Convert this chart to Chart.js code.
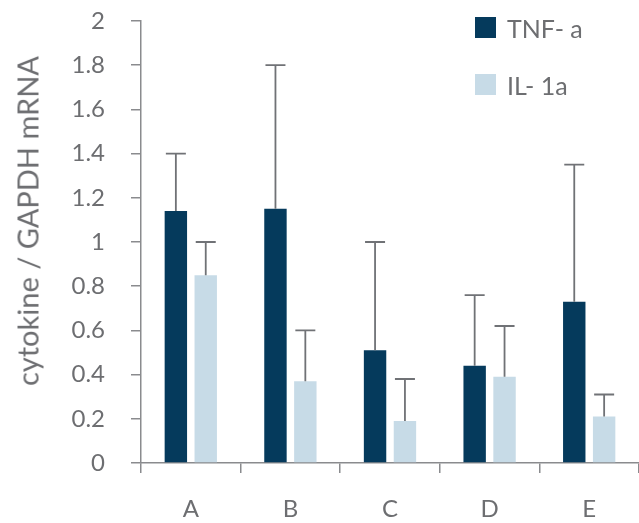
<!DOCTYPE html>
<html>
<head>
<meta charset="utf-8">
<script src="https://cdn.jsdelivr.net/npm/chart.js@4"></script>
<style>
  body { margin: 0; background: #fff; }
  #wrap { position: relative; width: 639px; height: 523px; }
  #legend { position: absolute; left: 475px; top: 12px; font-family: Lato, sans-serif; font-size: 25px; color: #6d6e71; }
  .item { display: flex; align-items: center; height: 31px; margin-bottom: 26px; }
  .box { width: 21px; height: 21px; margin-right: 11px; }
  #ytitle { position: absolute; left: 27px; top: 221px; transform: translate(-50%, -50%) rotate(-90deg);
            white-space: nowrap; font-family: Lato, sans-serif; font-size: 29px; color: #6d6e71; }
</style>
</head>
<body>
<div id="wrap">
  <canvas id="chart" width="639" height="523"></canvas>
  <div id="legend"></div>
  <div id="ytitle">cytokine / GAPDH mRNA</div>
</div>
<script>
const categories = ['A', 'B', 'C', 'D', 'E'];
const tnfValues = [1.14, 1.15, 0.51, 0.44, 0.73];
const tnfErrorTop = [1.40, 1.80, 1.00, 0.76, 1.35];
const ilValues = [0.85, 0.37, 0.19, 0.39, 0.21];
const ilErrorTop = [1.00, 0.60, 0.38, 0.62, 0.31];
const yTicks = [0, 0.2, 0.4, 0.6, 0.8, 1, 1.2, 1.4, 1.6, 1.8, 2];

const gray = '#6d6e71';
const axisGray = '#8a8b8e';

const legendItems = [
  { label: 'TNF- a', color: '#053a5c' },
  { label: 'IL- 1a', color: '#c7dbe7' }
];
document.getElementById('legend').innerHTML = legendItems.map(it =>
  `<div class="item"><span class="box" style="background:${it.color}"></span>${it.label}</div>`
).join('');

// draws the upper error whiskers from the arrays above
const errorBars = {
  id: 'errorBars',
  afterDatasetsDraw(chart) {
    const ctx = chart.ctx;
    const y = chart.scales.y;
    ctx.save();
    ctx.strokeStyle = '#707276';
    ctx.lineWidth = 1.8;
    chart.data.datasets.forEach((ds, i) => {
      const meta = chart.getDatasetMeta(i);
      meta.data.forEach((bar, j) => {
        const top = y.getPixelForValue(ds.errTop[j]);
        ctx.beginPath();
        ctx.moveTo(bar.x, bar.y);
        ctx.lineTo(bar.x, top);
        ctx.moveTo(bar.x - 10, top);
        ctx.lineTo(bar.x + 10, top);
        ctx.stroke();
      });
    });
    ctx.restore();
  }
};

const ctx = document.getElementById('chart').getContext('2d');
new Chart(ctx, {
  type: 'bar',
  data: {
    labels: categories,
    datasets: [
      { label: 'TNF- a', data: tnfValues, errTop: tnfErrorTop, backgroundColor: '#053a5c' },
      { label: 'IL- 1a', data: ilValues, errTop: ilErrorTop, backgroundColor: '#c7dbe7' }
    ]
  },
  options: {
    responsive: false,
    animation: false,
    categoryPercentage: 0.6,
    barPercentage: 0.75,
    layout: { padding: { top: 21, right: 0, bottom: 0, left: 0 } },
    plugins: { legend: { display: false }, tooltip: { enabled: false } },
    scales: {
      x: {
        grid: { display: true, drawOnChartArea: false, drawTicks: true, tickLength: 10, color: axisGray, lineWidth: 1.5, offset: true },
        border: { display: true, color: axisGray, width: 1.5 },
        ticks: { color: gray, padding: 22, font: { family: 'Lato', size: 24 } },
        afterFit(scale) { scale.height = 60; }
      },
      y: {
        min: 0,
        max: 2,
        afterBuildTicks(scale) { scale.ticks = yTicks.map(v => ({ value: v })); },
        grid: { display: true, drawOnChartArea: false, drawTicks: true, tickLength: 10, color: axisGray, lineWidth: 1.5 },
        border: { display: true, color: axisGray, width: 1.5 },
        ticks: { color: gray, padding: 26, font: { family: 'Lato', size: 24 }, callback: v => String(v) },
        afterFit(scale) { scale.width = 141; scale.paddingTop = 0; }
      }
    }
  },
  plugins: [errorBars]
});
</script>
</body>
</html>
